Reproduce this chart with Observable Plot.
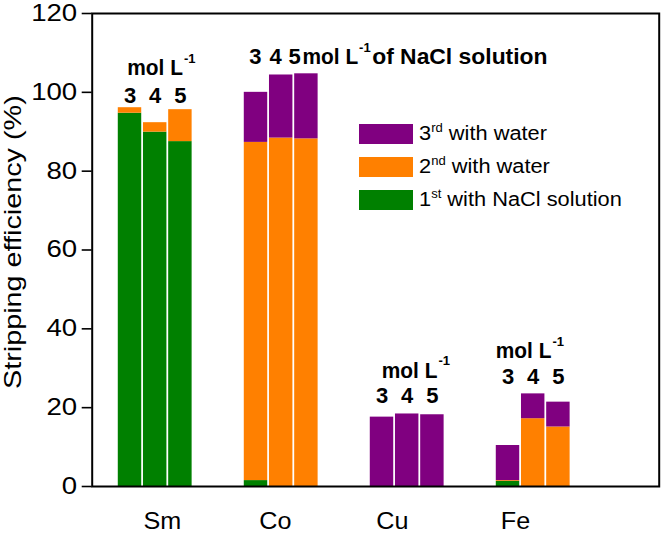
<!DOCTYPE html>
<html><head><meta charset="utf-8">
<script src="https://cdn.jsdelivr.net/npm/d3@7"></script>
<script src="https://cdn.jsdelivr.net/npm/@observablehq/plot@0.6"></script>
<style>
body{margin:0;background:#fff;}
#wrap{position:relative;width:661px;height:536px;font-family:"Liberation Sans",Arial,sans-serif;}
#legend{position:absolute;left:359px;top:124px;}
.row{position:absolute;left:0;width:300px;height:20px;white-space:nowrap;}
.sw{position:absolute;left:0;top:0;width:54px;height:20px;}
.lt{position:absolute;left:60px;top:-3px;font-size:20px;line-height:25px;transform:scaleX(1.09);transform-origin:left center;color:#000;}
.lt sup{font-size:12px;vertical-align:0;position:relative;top:-8px;line-height:0;}
</style></head><body><div id="wrap"></div>
<script>
// ---- data ----
const metals = ["Sm", "Co", "Cu", "Fe"];
const concentrations = [3, 4, 5];
const stages = ["1st with NaCl solution", "2nd with water", "3rd with water"];
const stage1 = [[94.7, 89.9, 87.5], [1.5, 0, 0], [0, 0, 0], [1.3, 0, 0]];
const stage2 = [[1.4, 2.4, 8.1], [85.8, 88.4, 88.2], [0, 0, 0], [0.2, 17.2, 15.1]];
const stage3 = [[0, 0, 0], [12.7, 16.0, 16.5], [17.6, 18.4, 18.2], [8.9, 6.3, 6.3]];
const yTicks = [0, 20, 40, 60, 80, 100, 120];
const colors = ["#008000", "#FF8000", "#800080"];

// ---- build table ----
const barStep = 0.2, barHalf = 0.093;
const center = (g, k) => g + 0.5 + (k - 1) * barStep;
const rects = [];
metals.forEach((m, g) => concentrations.forEach((c, k) => {
  let base = 0;
  [stage1, stage2, stage3].forEach((arr, s) => {
    const v = arr[g][k];
    if (v > 0) rects.push({metal: m, conc: c, stage: stages[s], x1: center(g, k) - barHalf, x2: center(g, k) + barHalf, y1: base, y2: base + v});
    base += v;
  });
}));

const labelShift = [0.057, -0.046, -0.117, -0.141];
const B = {fontWeight: "bold", fontSize: 22, lineAnchor: "middle", fill: "black"};
const ann = (t, x, y, o = {}) => Plot.text([t], {x: [x], y: [y], text: d => d, ...B, ...o});
const numMarks = (g, y, xs) => Plot.text(concentrations, {x: (c, k) => xs ? xs[k] : center(g, k), y: () => y, text: d => String(d), ...B});
const SUP = {textAnchor: "start", fontSize: 13};

const plot = Plot.plot({
  width: 661, height: 536,
  marginLeft: 91.7, marginRight: 2.3, marginTop: 13, marginBottom: 50,
  x: {domain: [0, 4.5], axis: null},
  y: {domain: [0, 120], axis: null},
  color: {domain: stages, range: colors},
  style: {fontFamily: "Liberation Sans, Arial, sans-serif", fontSize: "20px", color: "black", background: "white", overflow: "visible"},
  marks: [
    Plot.rect(rects, {x1: "x1", x2: "x2", y1: "y1", y2: "y2", fill: "stage"}),
    Plot.axisY({ticks: yTicks, tickSize: 10, tickPadding: 5, fontSize: 23, strokeWidth: 1.6, label: null, tickFormat: d => String(d)}),
    Plot.text(["Stripping efficiency (%)"], {y: [62], text: d => d, frameAnchor: "left", textAnchor: "middle", dx: -79, rotate: -90, fontSize: 23.5, lineAnchor: "middle", fill: "black"}),
    Plot.text(metals, {x: (d, i) => i + 0.5 + labelShift[i], frameAnchor: "bottom", dy: 35, fontSize: 24, lineAnchor: "middle", text: d => d, fill: "black"}),
    // Sm
    numMarks(0, 99.2),
    ann("mol L", 0.72, 106.2, {textAnchor: "end"}),
    ann("-1", 0.72, 108.6, {...SUP, dx: 1}),
    // Co
    numMarks(1, 109.0, [1.296, 1.455, 1.606]),
    ann("mol L", 1.669, 109.0, {textAnchor: "start"}),
    ann("-1", 2.118, 111.3, SUP),
    ann("of NaCl solution", 2.222, 109.0, {textAnchor: "start"}),
    // Cu
    numMarks(2, 22.96),
    ann("mol L", 2.74, 29.4, {textAnchor: "end"}),
    ann("-1", 2.74, 31.8, {...SUP, dx: 1}),
    // Fe
    numMarks(3, 27.8),
    ann("mol L", 3.645, 34.4, {textAnchor: "end"}),
    ann("-1", 3.645, 36.8, {...SUP, dx: 1}),
    Plot.frame({stroke: "black", strokeWidth: 2})
  ]
});

// stretch glyphs along their baseline to match the reference's wide lettering
const widthScale = {"of NaCl solution": 1.04, "mol L": 0.95, "Stripping efficiency (%)": 1.225, "Sm": 1.05, "Co": 1.05, "Cu": 1.05, "Fe": 1.05};
plot.querySelectorAll("text").forEach(t => {
  const wEl = t.closest("[font-weight]");
  const bold = wEl && wEl.getAttribute("font-weight") === "bold";
  const S = widthScale[t.textContent] ?? (bold ? 1.0 : 1.2);
  const tr = t.getAttribute("transform");
  if (tr) t.setAttribute("transform", tr + ` scale(${S},1)`);
  else {
    const x = parseFloat(t.getAttribute("x")) || 0;
    t.setAttribute("transform", `translate(${x},0) scale(${S},1) translate(${-x},0)`);
  }
});

const wrap = document.getElementById("wrap");
wrap.appendChild(plot);

// legend (top to bottom: 3rd, 2nd, 1st)
const legend = document.createElement("div");
legend.id = "legend";
const entries = [["3", "rd", " with water", 2], ["2", "nd", " with water", 1], ["1", "st", " with NaCl solution", 0]];
entries.forEach(([n, sup, rest, s], i) => {
  const row = document.createElement("div");
  row.className = "row";
  row.style.top = (i * 33) + "px";
  row.innerHTML = `<div class="sw" style="background:${colors[s]}"></div><div class="lt">${n}<sup>${sup}</sup>${rest}</div>`;
  legend.appendChild(row);
});
wrap.appendChild(legend);
</script></body></html>
